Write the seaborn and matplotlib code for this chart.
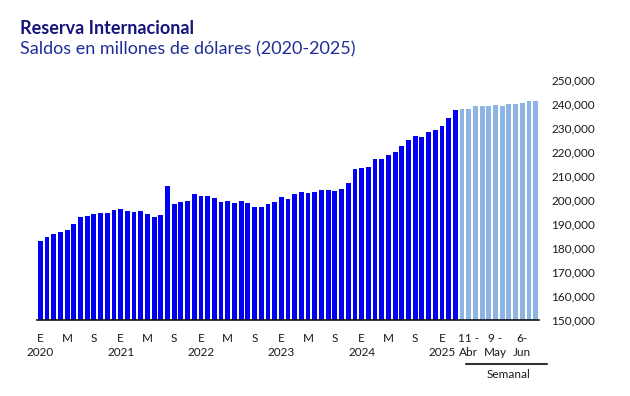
import pandas as pd
import matplotlib.pyplot as plt
import seaborn as sns
from matplotlib.lines import Line2D
from matplotlib.ticker import FuncFormatter, FixedLocator

# Saldos mensuales, ene-2020 a mar-2025 (millones de dólares)
meses = pd.date_range("2020-01-01", "2025-03-01", freq="MS").strftime("%Y-%m").tolist()
saldo_mensual = [
    183000, 184600, 185700, 186800, 187500, 189900, 192800, 193500, 194200, 194400, 194400, 195800,
    196250, 195400, 195000, 195400, 194300, 193000, 193750, 205800, 198300, 199200, 199600, 202600,
    201800, 201800, 201000, 199300, 199700, 198750, 199600, 198750, 197100, 197100, 198300, 199200,
    201250, 200400, 202500, 203300, 202900, 203300, 204200, 204200, 203750, 204600, 207100, 212900,
    213300, 213750, 217100, 217100, 218750, 220000, 222500, 225000, 226700, 226250, 228300, 229200,
    230800, 234200, 237500,
]

# Saldos semanales, abr-jun 2025
semanas = ["4-Abr", "11-Abr", "18-Abr", "25-Abr", "2-May", "9-May", "16-May", "23-May",
           "30-May", "6-Jun", "13-Jun", "20-Jun"]
saldo_semanal = [237900, 237900, 239200, 239200, 239200, 239600, 239200, 240000,
                 240000, 240400, 241250, 241250]

letra_mes = {1: "E", 5: "M", 9: "S"}
semanas_etiqueta = {"11-Abr": ("11 -", "Abr"), "9-May": ("9 -", "May"), "6-Jun": ("6-", "Jun")}

df = pd.DataFrame({
    "periodo": meses + semanas,
    "saldo": saldo_mensual + saldo_semanal,
    "tipo": ["Mensual"] * len(meses) + ["Semanal"] * len(semanas),
})

sns.set_style("white")
plt.rcParams["font.family"] = ["Lato", "DejaVu Sans"]

fig = plt.figure(figsize=(6.3, 3.96), dpi=100)
ax = fig.add_axes([37 / 630, 1 - 320 / 396, (539 - 37) / 630, (320 - 80) / 396])

sns.barplot(data=df, x="periodo", y="saldo", hue="tipo",
            palette={"Mensual": "#0000F5", "Semanal": "#8DB4E2"},
            dodge=False, width=0.72, legend=False, saturation=1,
            linewidth=0, edgecolor="none", ax=ax)

ax.set_ylim(150000, 250000)
ax.set_xlim(-0.5, len(df) - 0.5)
ax.yaxis.tick_right()
ax.set_yticks(range(150000, 250001, 10000))
ax.yaxis.set_major_formatter(FuncFormatter(lambda v, p: f"{int(v):,}"))
ax.tick_params(axis="y", length=0, pad=9, labelsize=8.5, labelcolor="#1a1a1a")
ax.set_xlabel("")
ax.set_ylabel("")

# marcas entre barras
ax.set_xticks([])
ax.xaxis.set_minor_locator(FixedLocator([i - 0.5 for i in range(len(df) + 1)]))
ax.tick_params(axis="x", which="minor", length=3, width=0.8, color="#333333", direction="out")

for s in ["left", "right", "top"]:
    ax.spines[s].set_visible(False)
ax.spines["bottom"].set_color("#111111")
ax.spines["bottom"].set_linewidth(1.2)

txt = dict(xycoords=("data", "axes fraction"), textcoords="offset pixels",
           ha="center", va="center", fontsize=8.5, color="#1a1a1a", annotation_clip=False)
for i, p in enumerate(meses):
    anio, mes = int(p[:4]), int(p[5:])
    if mes in letra_mes:
        ax.annotate(letra_mes[mes], (i, 0), xytext=(0, -18), **txt)
    if mes == 1:
        ax.annotate(str(anio), (i, 0), xytext=(0, -33), **txt)
for j, s in enumerate(semanas):
    if s in semanas_etiqueta:
        l1, l2 = semanas_etiqueta[s]
        ax.annotate(l1, (len(meses) + j, 0), xytext=(0, -18), **txt)
        ax.annotate(l2, (len(meses) + j, 0), xytext=(0, -33), **txt)

fig.add_artist(Line2D([466 / 630, 547 / 630], [1 - 364 / 396] * 2, color="#333333", lw=1.5))
fig.text(509 / 630, 1 - 375 / 396, "Semanal", ha="center", va="center", fontsize=8.5, color="#1a1a1a")

fig.text(20 / 630, 1 - 29 / 396, "Reserva Internacional", fontsize=13, fontweight="bold",
         color="#14147A", va="center")
fig.text(20 / 630, 1 - 49 / 396, "Saldos en millones de dólares (2020-2025)", fontsize=13,
         color="#1F2E96", va="center")

fig.savefig("out.png", dpi=100)
